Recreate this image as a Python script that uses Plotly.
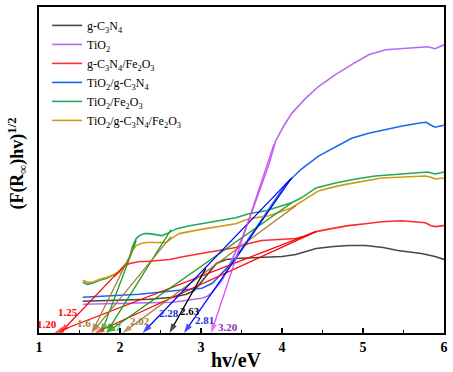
import plotly.graph_objects as go

# ---------------- curve data (hv in eV, (F(R)hv)^1/2 in a.u.) ----------------
gcn_x = [1.54, 2.00, 2.36, 2.65, 2.82, 2.92, 3.01, 3.10, 3.19, 3.31, 3.43, 3.71, 4.00, 4.17, 4.42, 4.64, 4.82, 5.03, 5.25, 5.43, 5.72, 5.89, 6.00]
gcn_y = [32, 33, 34, 36, 39, 43, 52, 62, 70, 74, 75, 76, 77, 79, 85, 87, 88, 88, 86, 83, 80, 77, 74]

tio2_x = [1.54, 2.12, 2.65, 3.01, 3.08, 3.14, 3.20, 3.26, 3.32, 3.38, 3.44, 3.51, 3.57, 3.63, 3.69, 3.75, 3.84, 3.92, 4.02, 4.12, 4.21, 4.29, 4.45, 4.66, 4.88, 5.07, 5.28, 5.43, 5.68, 5.80, 5.89, 6.00]
tio2_y = [29, 30, 31, 35, 37, 41, 47, 53, 63, 73, 84, 96, 109, 123, 137, 150, 170, 193, 208, 221, 229, 236, 248, 260, 271, 280, 285, 286, 287, 288, 286, 290]

gcnfe_x = [1.93, 2.00, 2.06, 2.12, 2.24, 2.33, 2.49, 2.61, 2.79, 3.01, 3.22, 3.43, 3.59, 3.75, 3.96, 4.17, 4.27, 4.42, 4.61, 4.82, 5.03, 5.23, 5.47, 5.68, 5.77, 5.84, 5.89, 6.00]
gcnfe_y = [57, 63, 68, 70, 72, 72, 73, 74, 77, 80, 83, 86, 90, 93, 94, 95, 97, 102, 105, 108, 110, 112, 113, 112, 111, 108, 107, 108]

tiogcn_x = [1.54, 2.24, 2.73, 3.01, 3.14, 3.26, 3.35, 3.43, 3.53, 3.63, 3.74, 3.84, 3.96, 4.05, 4.15, 4.24, 4.45, 4.66, 4.86, 5.07, 5.28, 5.47, 5.68, 5.78, 5.84, 5.89, 6.00]
tiogcn_y = [36, 39, 43, 45, 50, 60, 68, 76, 88, 100, 113, 126, 140, 150, 158, 165, 178, 187, 196, 201, 205, 208, 211, 212, 209, 207, 209]

tiofe_x = [1.54, 1.60, 1.66, 1.75, 1.84, 1.96, 2.02, 2.08, 2.12, 2.15, 2.20, 2.24, 2.30, 2.36, 2.45, 2.52, 2.58, 2.65, 2.70, 2.86, 3.01, 3.22, 3.43, 3.59, 3.80, 3.96, 4.12, 4.24, 4.42, 4.66, 4.91, 5.15, 5.47, 5.72, 5.80, 5.89, 6.00]
tiofe_y = [51, 49, 50, 53, 55, 60, 63, 70, 77, 86, 95, 98, 100, 100, 99, 98, 100, 103, 105, 108, 110, 113, 116, 120, 123, 127, 131, 136, 146, 151, 155, 158, 160, 161, 162, 160, 162]

tern_x = [1.54, 1.60, 1.66, 1.75, 1.84, 2.00, 2.06, 2.12, 2.15, 2.20, 2.26, 2.33, 2.45, 2.57, 2.65, 2.73, 2.98, 3.22, 3.43, 3.59, 3.84, 4.12, 4.29, 4.45, 4.64, 4.82, 5.23, 5.64, 5.77, 5.83, 5.89, 6.00]
tern_y = [53, 51, 51, 54, 56, 61, 68, 76, 83, 88, 90, 91, 91, 91, 96, 100, 104, 107, 110, 115, 118, 126, 135, 143, 147, 150, 156, 157, 158, 157, 155, 156]

series_names = ["g-C<sub>3</sub>N<sub>4</sub>", "TiO<sub>2</sub>", "g-C<sub>3</sub>N<sub>4</sub>/Fe<sub>2</sub>O<sub>3</sub>",
                "TiO<sub>2</sub>/g-C<sub>3</sub>N<sub>4</sub>", "TiO<sub>2</sub>/Fe<sub>2</sub>O<sub>3</sub>",
                "TiO<sub>2</sub>/g-C<sub>3</sub>N<sub>4</sub>/Fe<sub>2</sub>O<sub>3</sub>"]
series_x = [gcn_x, tio2_x, gcnfe_x, tiogcn_x, tiofe_x, tern_x]
series_y = [gcn_y, tio2_y, gcnfe_y, tiogcn_y, tiofe_y, tern_y]
series_colors = ["#474747", "#b36bf2", "#ff2a2a", "#1a66f0", "#22a85a", "#d39a10"]

# ---------------- tangent (band-gap) lines: tail on curve -> head on the axis ----------------
tan_head_x = [1.19, 1.26, 1.69, 1.77, 1.83, 1.83, 1.65, 1.65, 2.03, 2.28, 2.79, 2.61, 3.125]
tan_tail_x = [4.42, 2.08, 4.42, 2.20, 2.63, 4.12, 2.18, 2.63, 4.17, 4.12, 4.12, 3.06, 3.90]
tan_tail_y = [102, 70, 102, 93, 104, 131, 87, 97, 128, 156, 156, 65, 190]
tan_colors = ["#ff0000", "#ff0000", "#ff0000", "#129a12", "#129a12", "#129a12",
              "#a5782a", "#a5782a", "#a5782a", "#0000ff", "#0000ff", "#000000", "#e040fb"]

gap_labels = ["1.20", "1.25", "1.6", "1.7", "2.02", "2.28", "2.63", "2.81", "3.20"]
gap_label_x = [1.10, 1.36, 1.55, 1.93, 2.25, 2.60, 2.87, 3.04, 3.33]
gap_label_y = [9, 21, 10, 6, 12, 20, 22, 13, 6]
gap_label_colors = ["#ff0000", "#ff0000", "#a08040", "#22aa22", "#a08040", "#2233cc", "#000000", "#2233cc", "#8e2fb0"]

x_ticks = [1, 2, 3, 4, 5, 6]

SERIF = "Liberation Serif"

fig = go.Figure()
for name, xs, ys, c in zip(series_names, series_x, series_y, series_colors):
    fig.add_trace(go.Scatter(x=xs, y=ys, mode="lines", name=name, hoverinfo="skip",
                             line=dict(color=c, width=1.6)))

for hx, tx, ty, c in zip(tan_head_x, tan_tail_x, tan_tail_y, tan_colors):
    fig.add_trace(go.Scatter(x=[tx, hx], y=[ty, 0], mode="lines+markers", showlegend=False,
                             hoverinfo="skip", cliponaxis=False,
                             line=dict(color=c, width=1.2),
                             marker=dict(symbol="arrow", size=[0, 10], angleref="previous",
                                         color=c, line=dict(width=0))))

annotations = []
for t, lx, ly, c in zip(gap_labels, gap_label_x, gap_label_y, gap_label_colors):
    annotations.append(dict(x=lx, y=ly, xref="x", yref="y", text="<b>%s</b>" % t, showarrow=False,
                            font=dict(family=SERIF, size=11, color=c)))

annotations.append(dict(x=-0.054, y=0.52, xref="paper", yref="paper", textangle=-90,
                        xanchor="center", yanchor="middle",
                        text="<b>(F(R<sub>∞</sub>)hv)<sup>1/2</sup></b>", showarrow=False,
                        font=dict(family=SERIF, size=18, color="black")))
annotations.append(dict(x=0.487, y=-0.082, xref="paper", yref="paper",
                        xanchor="center", yanchor="middle",
                        text="<b>hv/eV</b>", showarrow=False,
                        font=dict(family=SERIF, size=20, color="black")))

fig.update_layout(
    width=453, height=372,
    margin=dict(l=39, r=7, t=5, b=39),
    paper_bgcolor="white", plot_bgcolor="white",
    showlegend=True,
    legend=dict(x=0.02, y=0.988, xanchor="left", yanchor="top",
                bgcolor="rgba(0,0,0,0)", font=dict(family=SERIF, size=12, color="black"),
                itemwidth=30, tracegroupgap=0),
    annotations=annotations,
    xaxis=dict(range=[1, 6], tickvals=x_ticks, ticktext=[str(v) for v in x_ticks],
               ticks="inside", ticklen=5, tickwidth=1.5, tickcolor="black",
               minor=dict(dtick=0.5, tick0=1, ticks="inside", ticklen=3, tickwidth=1.2, tickcolor="black"),
               showline=True, linecolor="black", linewidth=2, mirror=True,
               showgrid=False, zeroline=False,
               tickfont=dict(family=SERIF, size=14, color="black", weight="bold")),
    yaxis=dict(range=[0, 328], showticklabels=False, ticks="",
               showline=True, linecolor="black", linewidth=2, mirror=True,
               showgrid=False, zeroline=False),
)

fig.write_html("out.html", config={"displayModeBar": False},
               post_script="document.body.style.margin='0';document.body.style.overflow='hidden';")
